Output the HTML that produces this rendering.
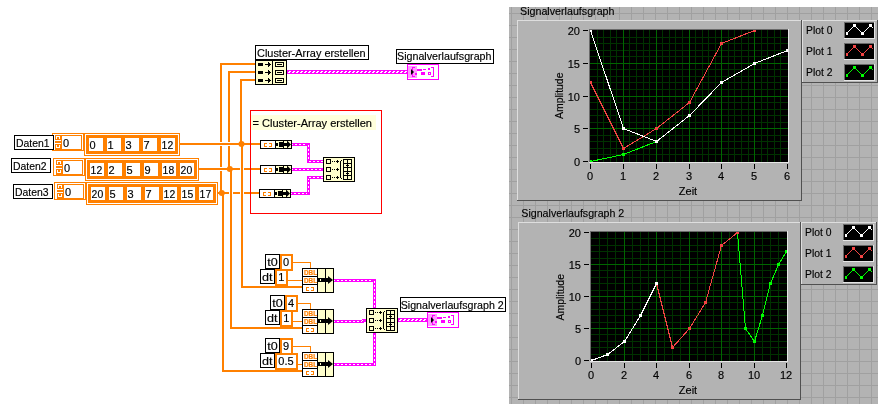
<!DOCTYPE html>
<html lang="de"><head><meta charset="utf-8"><title>Signalverlaufsgraph</title>
<style>
html,body{margin:0;padding:0;background:#fff;}
body{width:885px;height:411px;overflow:hidden;}
svg{display:block;font-family:"Liberation Sans",sans-serif;font-size:11px;}
text{stroke:#000;stroke-width:0.15px;}
text.o{stroke:#FF8000;stroke-width:0.2px;}
</style></head><body>
<svg width="885" height="411" viewBox="0 0 885 411" shape-rendering="crispEdges">
<rect width="885" height="411" fill="#fff"/>
<rect x="509" y="7" width="369" height="397" fill="#B3B3B3"/>
<path d="M511.5 7V404 M523.5 7V404 M535.5 7V404 M547.5 7V404 M559.5 7V404 M571.5 7V404 M583.5 7V404 M595.5 7V404 M607.5 7V404 M619.5 7V404 M631.5 7V404 M643.5 7V404 M655.5 7V404 M667.5 7V404 M679.5 7V404 M691.5 7V404 M703.5 7V404 M715.5 7V404 M727.5 7V404 M739.5 7V404 M751.5 7V404 M763.5 7V404 M775.5 7V404 M787.5 7V404 M799.5 7V404 M811.5 7V404 M823.5 7V404 M835.5 7V404 M847.5 7V404 M859.5 7V404 M871.5 7V404 M509 13.5H878 M509 25.5H878 M509 37.5H878 M509 49.5H878 M509 61.5H878 M509 73.5H878 M509 85.5H878 M509 97.5H878 M509 109.5H878 M509 121.5H878 M509 133.5H878 M509 145.5H878 M509 157.5H878 M509 169.5H878 M509 181.5H878 M509 193.5H878 M509 205.5H878 M509 217.5H878 M509 229.5H878 M509 241.5H878 M509 253.5H878 M509 265.5H878 M509 277.5H878 M509 289.5H878 M509 301.5H878 M509 313.5H878 M509 325.5H878 M509 337.5H878 M509 349.5H878 M509 361.5H878 M509 373.5H878 M509 385.5H878 M509 397.5H878" stroke="#A0A0A0" stroke-width="1" fill="none"/>
<rect x="517" y="20" width="285" height="181" fill="#B3B3B3"/>
<rect x="517" y="20" width="285" height="1" fill="#DEDEDE"/>
<rect x="517" y="20" width="1" height="181" fill="#DEDEDE"/>
<rect x="517" y="200" width="285" height="1" fill="#505050"/>
<rect x="801" y="20" width="1" height="181" fill="#505050"/>
<text x="520" y="15" textLength="94.5" lengthAdjust="spacingAndGlyphs">Signalverlaufsgraph</text>
<rect x="589" y="29" width="200" height="134" fill="#000000"/>
<rect x="589" y="29" width="200" height="1" fill="#6A6A6A"/>
<rect x="589" y="29" width="1" height="134" fill="#6A6A6A"/>
<rect x="589" y="162" width="200" height="1" fill="#E6E6E6"/>
<rect x="788" y="29" width="1" height="134" fill="#E6E6E6"/>
<path d="M597.5 30V162 M603.5 30V162 M610.5 30V162 M616.5 30V162 M629.5 30V162 M636.5 30V162 M643.5 30V162 M649.5 30V162 M662.5 30V162 M669.5 30V162 M675.5 30V162 M682.5 30V162 M695.5 30V162 M702.5 30V162 M708.5 30V162 M715.5 30V162 M728.5 30V162 M734.5 30V162 M741.5 30V162 M748.5 30V162 M761.5 30V162 M767.5 30V162 M774.5 30V162 M780.5 30V162 M590 154.5H788 M590 148.5H788 M590 141.5H788 M590 135.5H788 M590 122.5H788 M590 115.5H788 M590 109.5H788 M590 102.5H788 M590 89.5H788 M590 82.5H788 M590 76.5H788 M590 69.5H788 M590 56.5H788 M590 50.5H788 M590 43.5H788 M590 37.5H788" stroke="#003200" fill="none"/>
<path d="M623.5 30V162 M656.5 30V162 M689.5 30V162 M721.5 30V162 M754.5 30V162 M590 128.5H788 M590 96.5H788 M590 63.5H788" stroke="#006600" fill="none"/>
<rect x="583" y="161" width="5" height="1" fill="#000000"/>
<text x="580" y="165.5" text-anchor="end">0</text>
<rect x="583" y="128" width="5" height="1" fill="#000000"/>
<text x="580" y="132.5" text-anchor="end">5</text>
<rect x="583" y="96" width="5" height="1" fill="#000000"/>
<text x="580" y="100.5" text-anchor="end">10</text>
<rect x="583" y="63" width="5" height="1" fill="#000000"/>
<text x="580" y="67.5" text-anchor="end">15</text>
<rect x="583" y="30" width="5" height="1" fill="#000000"/>
<text x="580" y="34.5" text-anchor="end">20</text>
<rect x="590" y="164" width="1" height="5" fill="#000000"/>
<text x="590" y="180" text-anchor="middle">0</text>
<rect x="623" y="164" width="1" height="5" fill="#000000"/>
<text x="623" y="180" text-anchor="middle">1</text>
<rect x="656" y="164" width="1" height="5" fill="#000000"/>
<text x="656" y="180" text-anchor="middle">2</text>
<rect x="689" y="164" width="1" height="5" fill="#000000"/>
<text x="689" y="180" text-anchor="middle">3</text>
<rect x="721" y="164" width="1" height="5" fill="#000000"/>
<text x="721" y="180" text-anchor="middle">4</text>
<rect x="754" y="164" width="1" height="5" fill="#000000"/>
<text x="754" y="180" text-anchor="middle">5</text>
<rect x="787" y="164" width="1" height="5" fill="#000000"/>
<text x="787" y="180" text-anchor="middle">6</text>
<text x="688.0" y="195" text-anchor="middle">Zeit</text>
<text transform="translate(562.5 119.0) rotate(-90)" textLength="46.5" lengthAdjust="spacingAndGlyphs">Amplitude</text>
<path d="M590.5 161.5 L623.5 154.5 L656.5 141.5 L689.5 115.5 L721.5 82.5" stroke="#00FF00" fill="none" stroke-width="1"/>
<rect x="590" y="160.0" width="2.0" height="2.0" fill="#00FF00"/>
<rect x="622.0" y="153.0" width="3.0" height="3.0" fill="#00FF00"/>
<rect x="655.0" y="140.0" width="3.0" height="3.0" fill="#00FF00"/>
<rect x="688.0" y="114.0" width="3.0" height="3.0" fill="#00FF00"/>
<rect x="720.0" y="81.0" width="3.0" height="3.0" fill="#00FF00"/>
<path d="M590.5 82.5 L623.5 148.5 L656.5 128.5 L689.5 102.5 L721.5 43.5 L754.5 30.5" stroke="#F44444" fill="none" stroke-width="1"/>
<rect x="590" y="81.0" width="2.0" height="3.0" fill="#F44444"/>
<rect x="622.0" y="147.0" width="3.0" height="3.0" fill="#F44444"/>
<rect x="655.0" y="127.0" width="3.0" height="3.0" fill="#F44444"/>
<rect x="688.0" y="101.0" width="3.0" height="3.0" fill="#F44444"/>
<rect x="720.0" y="42.0" width="3.0" height="3.0" fill="#F44444"/>
<rect x="753.0" y="30" width="3.0" height="2.0" fill="#F44444"/>
<path d="M590.5 30.5 L623.5 128.5 L656.5 141.5 L689.5 115.5 L721.5 82.5 L754.5 63.5 L787.5 50.5" stroke="#FFFFFF" fill="none" stroke-width="1"/>
<rect x="590" y="30" width="2.0" height="2.0" fill="#FFFFFF"/>
<rect x="622.0" y="127.0" width="3.0" height="3.0" fill="#FFFFFF"/>
<rect x="655.0" y="140.0" width="3.0" height="3.0" fill="#FFFFFF"/>
<rect x="688.0" y="114.0" width="3.0" height="3.0" fill="#FFFFFF"/>
<rect x="720.0" y="81.0" width="3.0" height="3.0" fill="#FFFFFF"/>
<rect x="753.0" y="62.0" width="3.0" height="3.0" fill="#FFFFFF"/>
<rect x="786.0" y="49.0" width="2.0" height="3.0" fill="#FFFFFF"/>
<rect x="802" y="20" width="76" height="63" fill="#B3B3B3"/>
<rect x="802" y="20" width="76" height="1" fill="#DEDEDE"/>
<rect x="802" y="20" width="1" height="63" fill="#DEDEDE"/>
<rect x="802" y="82" width="76" height="1" fill="#505050"/>
<rect x="877" y="20" width="1" height="63" fill="#505050"/>
<text x="806" y="34" textLength="26.5" lengthAdjust="spacingAndGlyphs">Plot 0</text>
<rect x="844" y="22" width="31" height="17" fill="#000000"/>
<rect x="844" y="22" width="31" height="1" fill="#6A6A6A"/>
<rect x="844" y="22" width="1" height="17" fill="#6A6A6A"/>
<rect x="844" y="38" width="31" height="1" fill="#E6E6E6"/>
<rect x="874" y="22" width="1" height="17" fill="#E6E6E6"/>
<path d="M846.5 33.5 L854.5 25.5 L862.5 33.5 L870.5 25.5 L873.5 28.5" stroke="#FFFFFF" fill="none"/>
<rect x="846.0" y="32.0" width="2.0" height="3.0" fill="#FFFFFF"/>
<rect x="853.0" y="24.0" width="3.0" height="3.0" fill="#FFFFFF"/>
<rect x="861.0" y="32.0" width="3.0" height="3.0" fill="#FFFFFF"/>
<rect x="869.0" y="24.0" width="3.0" height="3.0" fill="#FFFFFF"/>
<text x="806" y="55" textLength="26.5" lengthAdjust="spacingAndGlyphs">Plot 1</text>
<rect x="844" y="43" width="31" height="17" fill="#000000"/>
<rect x="844" y="43" width="31" height="1" fill="#6A6A6A"/>
<rect x="844" y="43" width="1" height="17" fill="#6A6A6A"/>
<rect x="844" y="59" width="31" height="1" fill="#E6E6E6"/>
<rect x="874" y="43" width="1" height="17" fill="#E6E6E6"/>
<path d="M846.5 54.5 L854.5 46.5 L862.5 54.5 L870.5 46.5 L873.5 49.5" stroke="#F44444" fill="none"/>
<rect x="846.0" y="53.0" width="2.0" height="3.0" fill="#F44444"/>
<rect x="853.0" y="45.0" width="3.0" height="3.0" fill="#F44444"/>
<rect x="861.0" y="53.0" width="3.0" height="3.0" fill="#F44444"/>
<rect x="869.0" y="45.0" width="3.0" height="3.0" fill="#F44444"/>
<text x="806" y="76" textLength="26.5" lengthAdjust="spacingAndGlyphs">Plot 2</text>
<rect x="844" y="64" width="31" height="17" fill="#000000"/>
<rect x="844" y="64" width="31" height="1" fill="#6A6A6A"/>
<rect x="844" y="64" width="1" height="17" fill="#6A6A6A"/>
<rect x="844" y="80" width="31" height="1" fill="#E6E6E6"/>
<rect x="874" y="64" width="1" height="17" fill="#E6E6E6"/>
<path d="M846.5 75.5 L854.5 67.5 L862.5 75.5 L870.5 67.5 L873.5 70.5" stroke="#00FF00" fill="none"/>
<rect x="846.0" y="74.0" width="2.0" height="3.0" fill="#00FF00"/>
<rect x="853.0" y="66.0" width="3.0" height="3.0" fill="#00FF00"/>
<rect x="861.0" y="74.0" width="3.0" height="3.0" fill="#00FF00"/>
<rect x="869.0" y="66.0" width="3.0" height="3.0" fill="#00FF00"/>
<rect x="518" y="222" width="283" height="178" fill="#B3B3B3"/>
<rect x="518" y="222" width="283" height="1" fill="#DEDEDE"/>
<rect x="518" y="222" width="1" height="178" fill="#DEDEDE"/>
<rect x="518" y="399" width="283" height="1" fill="#505050"/>
<rect x="800" y="222" width="1" height="178" fill="#505050"/>
<text x="521.3" y="217" textLength="103" lengthAdjust="spacingAndGlyphs">Signalverlaufsgraph 2</text>
<rect x="590" y="231" width="198" height="131" fill="#000000"/>
<rect x="590" y="231" width="198" height="1" fill="#6A6A6A"/>
<rect x="590" y="231" width="1" height="131" fill="#6A6A6A"/>
<rect x="590" y="361" width="198" height="1" fill="#E6E6E6"/>
<rect x="787" y="231" width="1" height="131" fill="#E6E6E6"/>
<path d="M599.5 232V361 M607.5 232V361 M615.5 232V361 M632.5 232V361 M640.5 232V361 M648.5 232V361 M664.5 232V361 M672.5 232V361 M680.5 232V361 M697.5 232V361 M705.5 232V361 M713.5 232V361 M729.5 232V361 M737.5 232V361 M745.5 232V361 M762.5 232V361 M770.5 232V361 M778.5 232V361 M591 354.5H787 M591 347.5H787 M591 341.5H787 M591 334.5H787 M591 322.5H787 M591 315.5H787 M591 309.5H787 M591 302.5H787 M591 290.5H787 M591 283.5H787 M591 277.5H787 M591 270.5H787 M591 258.5H787 M591 251.5H787 M591 245.5H787 M591 238.5H787" stroke="#003200" fill="none"/>
<path d="M624.5 232V361 M656.5 232V361 M689.5 232V361 M721.5 232V361 M754.5 232V361 M591 328.5H787 M591 296.5H787 M591 264.5H787" stroke="#006600" fill="none"/>
<rect x="584" y="360" width="5" height="1" fill="#000000"/>
<text x="581" y="364.5" text-anchor="end">0</text>
<rect x="584" y="328" width="5" height="1" fill="#000000"/>
<text x="581" y="332.5" text-anchor="end">5</text>
<rect x="584" y="296" width="5" height="1" fill="#000000"/>
<text x="581" y="300.5" text-anchor="end">10</text>
<rect x="584" y="264" width="5" height="1" fill="#000000"/>
<text x="581" y="268.5" text-anchor="end">15</text>
<rect x="584" y="232" width="5" height="1" fill="#000000"/>
<text x="581" y="236.5" text-anchor="end">20</text>
<rect x="591" y="363" width="1" height="5" fill="#000000"/>
<text x="591" y="379" text-anchor="middle">0</text>
<rect x="624" y="363" width="1" height="5" fill="#000000"/>
<text x="624" y="379" text-anchor="middle">2</text>
<rect x="656" y="363" width="1" height="5" fill="#000000"/>
<text x="656" y="379" text-anchor="middle">4</text>
<rect x="689" y="363" width="1" height="5" fill="#000000"/>
<text x="689" y="379" text-anchor="middle">6</text>
<rect x="721" y="363" width="1" height="5" fill="#000000"/>
<text x="721" y="379" text-anchor="middle">8</text>
<rect x="754" y="363" width="1" height="5" fill="#000000"/>
<text x="754" y="379" text-anchor="middle">10</text>
<rect x="786" y="363" width="1" height="5" fill="#000000"/>
<text x="786" y="379" text-anchor="middle">12</text>
<text x="688.0" y="394" text-anchor="middle">Zeit</text>
<text transform="translate(563.5 320.5) rotate(-90)" textLength="46.5" lengthAdjust="spacingAndGlyphs">Amplitude</text>
<path d="M737.5 232.5 L745.5 328.5 L754.5 341.5 L762.5 315.5 L770.5 283.5 L778.5 264.5 L786.5 251.5" stroke="#00FF00" fill="none" stroke-width="1"/>
<rect x="736.0" y="232" width="3.0" height="2.0" fill="#00FF00"/>
<rect x="744.0" y="327.0" width="3.0" height="3.0" fill="#00FF00"/>
<rect x="753.0" y="340.0" width="3.0" height="3.0" fill="#00FF00"/>
<rect x="761.0" y="314.0" width="3.0" height="3.0" fill="#00FF00"/>
<rect x="769.0" y="282.0" width="3.0" height="3.0" fill="#00FF00"/>
<rect x="777.0" y="263.0" width="3.0" height="3.0" fill="#00FF00"/>
<rect x="785.0" y="250.0" width="2.0" height="3.0" fill="#00FF00"/>
<path d="M656.5 283.5 L672.5 347.5 L689.5 328.5 L705.5 302.5 L721.5 245.5 L737.5 232.5" stroke="#F44444" fill="none" stroke-width="1"/>
<rect x="655.0" y="282.0" width="3.0" height="3.0" fill="#F44444"/>
<rect x="671.0" y="346.0" width="3.0" height="3.0" fill="#F44444"/>
<rect x="688.0" y="327.0" width="3.0" height="3.0" fill="#F44444"/>
<rect x="704.0" y="301.0" width="3.0" height="3.0" fill="#F44444"/>
<rect x="720.0" y="244.0" width="3.0" height="3.0" fill="#F44444"/>
<rect x="736.0" y="232" width="3.0" height="2.0" fill="#F44444"/>
<path d="M591.5 360.5 L607.5 354.5 L624.5 341.5 L640.5 315.5 L656.5 283.5" stroke="#FFFFFF" fill="none" stroke-width="1"/>
<rect x="591" y="359.0" width="2.0" height="2.0" fill="#FFFFFF"/>
<rect x="606.0" y="353.0" width="3.0" height="3.0" fill="#FFFFFF"/>
<rect x="623.0" y="340.0" width="3.0" height="3.0" fill="#FFFFFF"/>
<rect x="639.0" y="314.0" width="3.0" height="3.0" fill="#FFFFFF"/>
<rect x="655.0" y="282.0" width="3.0" height="3.0" fill="#FFFFFF"/>
<rect x="801" y="222" width="76" height="63" fill="#B3B3B3"/>
<rect x="801" y="222" width="76" height="1" fill="#DEDEDE"/>
<rect x="801" y="222" width="1" height="63" fill="#DEDEDE"/>
<rect x="801" y="284" width="76" height="1" fill="#505050"/>
<rect x="876" y="222" width="1" height="63" fill="#505050"/>
<text x="805" y="236" textLength="26.5" lengthAdjust="spacingAndGlyphs">Plot 0</text>
<rect x="843" y="224" width="31" height="17" fill="#000000"/>
<rect x="843" y="224" width="31" height="1" fill="#6A6A6A"/>
<rect x="843" y="224" width="1" height="17" fill="#6A6A6A"/>
<rect x="843" y="240" width="31" height="1" fill="#E6E6E6"/>
<rect x="873" y="224" width="1" height="17" fill="#E6E6E6"/>
<path d="M845.5 235.5 L853.5 227.5 L861.5 235.5 L869.5 227.5 L872.5 230.5" stroke="#FFFFFF" fill="none"/>
<rect x="845.0" y="234.0" width="2.0" height="3.0" fill="#FFFFFF"/>
<rect x="852.0" y="226.0" width="3.0" height="3.0" fill="#FFFFFF"/>
<rect x="860.0" y="234.0" width="3.0" height="3.0" fill="#FFFFFF"/>
<rect x="868.0" y="226.0" width="3.0" height="3.0" fill="#FFFFFF"/>
<text x="805" y="257" textLength="26.5" lengthAdjust="spacingAndGlyphs">Plot 1</text>
<rect x="843" y="245" width="31" height="17" fill="#000000"/>
<rect x="843" y="245" width="31" height="1" fill="#6A6A6A"/>
<rect x="843" y="245" width="1" height="17" fill="#6A6A6A"/>
<rect x="843" y="261" width="31" height="1" fill="#E6E6E6"/>
<rect x="873" y="245" width="1" height="17" fill="#E6E6E6"/>
<path d="M845.5 256.5 L853.5 248.5 L861.5 256.5 L869.5 248.5 L872.5 251.5" stroke="#F44444" fill="none"/>
<rect x="845.0" y="255.0" width="2.0" height="3.0" fill="#F44444"/>
<rect x="852.0" y="247.0" width="3.0" height="3.0" fill="#F44444"/>
<rect x="860.0" y="255.0" width="3.0" height="3.0" fill="#F44444"/>
<rect x="868.0" y="247.0" width="3.0" height="3.0" fill="#F44444"/>
<text x="805" y="278" textLength="26.5" lengthAdjust="spacingAndGlyphs">Plot 2</text>
<rect x="843" y="266" width="31" height="17" fill="#000000"/>
<rect x="843" y="266" width="31" height="1" fill="#6A6A6A"/>
<rect x="843" y="266" width="1" height="17" fill="#6A6A6A"/>
<rect x="843" y="282" width="31" height="1" fill="#E6E6E6"/>
<rect x="873" y="266" width="1" height="17" fill="#E6E6E6"/>
<path d="M845.5 277.5 L853.5 269.5 L861.5 277.5 L869.5 269.5 L872.5 272.5" stroke="#00FF00" fill="none"/>
<rect x="845.0" y="276.0" width="2.0" height="3.0" fill="#00FF00"/>
<rect x="852.0" y="268.0" width="3.0" height="3.0" fill="#00FF00"/>
<rect x="860.0" y="276.0" width="3.0" height="3.0" fill="#00FF00"/>
<rect x="868.0" y="268.0" width="3.0" height="3.0" fill="#00FF00"/>
<rect x="220" y="63" width="2" height="79" fill="#FF8000"/>
<rect x="220" y="146" width="2" height="21" fill="#FF8000"/>
<rect x="220" y="171" width="2" height="22" fill="#FF8000"/>
<rect x="220" y="63" width="35" height="2" fill="#FF8000"/>
<rect x="222" y="193" width="2" height="179" fill="#FF8000"/>
<rect x="222" y="370" width="80" height="2" fill="#FF8000"/>
<rect x="228" y="71" width="2" height="71" fill="#FF8000"/>
<rect x="228" y="146" width="2" height="23" fill="#FF8000"/>
<rect x="228" y="71" width="27" height="2" fill="#FF8000"/>
<rect x="230" y="169" width="2" height="160" fill="#FF8000"/>
<rect x="230" y="327" width="72" height="2" fill="#FF8000"/>
<rect x="240" y="79" width="2" height="65" fill="#FF8000"/>
<rect x="240" y="79" width="15" height="2" fill="#FF8000"/>
<rect x="241" y="144" width="2" height="144" fill="#FF8000"/>
<rect x="241" y="286" width="61" height="2" fill="#FF8000"/>
<rect x="180" y="143" width="80" height="2" fill="#FF8000"/>
<rect x="199" y="168" width="41" height="2" fill="#FF8000"/>
<rect x="244" y="168" width="16" height="2" fill="#FF8000"/>
<rect x="218" y="192" width="11" height="2" fill="#FF8000"/>
<rect x="233" y="192" width="7" height="2" fill="#FF8000"/>
<rect x="244" y="192" width="15" height="2" fill="#FF8000"/>
<circle cx="241.5" cy="144" r="3" fill="#FF8000" shape-rendering="auto"/>
<circle cx="229.8" cy="169" r="3" fill="#FF8000" shape-rendering="auto"/>
<circle cx="221.8" cy="193" r="3" fill="#FF8000" shape-rendering="auto"/>
<rect x="250" y="110" width="132" height="104" fill="#FF0000"/>
<rect x="251" y="111" width="130" height="102" fill="#FFFFFF"/>
<rect x="251" y="115" width="125" height="15" fill="#FFFFDC"/>
<text x="252.5" y="127" textLength="119.5" lengthAdjust="spacingAndGlyphs">= Cluster-Array erstellen</text>
<rect x="250" y="143" width="10" height="2" fill="#FF8000"/>
<rect x="251" y="168" width="9" height="2" fill="#FF8000"/>
<rect x="251" y="192" width="8" height="2" fill="#FF8000"/>
<rect x="250" y="110" width="1" height="104" fill="#FF0000"/>
<rect x="292" y="143" width="18" height="3" fill="#FF00FF"/>
<path d="M292 144.5H309" stroke="#FFFFFF" stroke-dasharray="2 2" stroke-dashoffset="1" fill="none"/>
<rect x="307" y="143" width="3" height="20" fill="#FF00FF"/>
<path d="M308.5 145V162" stroke="#FFFFFF" stroke-dasharray="2 2" fill="none"/>
<rect x="307" y="160" width="16" height="3" fill="#FF00FF"/>
<path d="M309 161.5H323" stroke="#FFFFFF" stroke-dasharray="2 2" fill="none"/>
<rect x="292" y="168" width="31" height="3" fill="#FF00FF"/>
<path d="M292 169.5H322" stroke="#FFFFFF" stroke-dasharray="2 2" stroke-dashoffset="1" fill="none"/>
<rect x="291" y="192" width="19" height="3" fill="#FF00FF"/>
<path d="M291 193.5H309" stroke="#FFFFFF" stroke-dasharray="2 2" stroke-dashoffset="1" fill="none"/>
<rect x="307" y="176" width="3" height="19" fill="#FF00FF"/>
<path d="M308.5 178V194" stroke="#FFFFFF" stroke-dasharray="2 2" fill="none"/>
<rect x="307" y="176" width="16" height="3" fill="#FF00FF"/>
<path d="M309 177.5H323" stroke="#FFFFFF" stroke-dasharray="2 2" fill="none"/>
<rect x="260" y="140" width="32" height="9" fill="#000000"/>
<rect x="261" y="141" width="30" height="7" fill="#FFFFFF"/>
<rect x="275" y="140" width="17" height="9" fill="#000000"/>
<rect x="276" y="141" width="7" height="1" fill="#FFFFCC"/>
<rect x="276" y="147" width="7" height="1" fill="#FFFFCC"/>
<rect x="276" y="142" width="2" height="1" fill="#FFFFCC"/>
<rect x="276" y="146" width="2" height="1" fill="#FFFFCC"/>
<rect x="278" y="142" width="1" height="5" fill="#FFFFCC"/>
<rect x="284" y="141" width="3" height="2" fill="#FFFFCC"/>
<rect x="284" y="146" width="3" height="2" fill="#FFFFCC"/>
<path d="M287.5 141h3.5v3.5zM287.5 148h3.5v-3.5z" fill="#FFFFCC" shape-rendering="auto"/>
<path d="M267 143.5h-2.5v3h2.5M269 143.5h2.5v3h-2.5" stroke="#FF8000" fill="none"/>
<rect x="260" y="165" width="32" height="9" fill="#000000"/>
<rect x="261" y="166" width="30" height="7" fill="#FFFFFF"/>
<rect x="275" y="165" width="17" height="9" fill="#000000"/>
<rect x="276" y="166" width="7" height="1" fill="#FFFFCC"/>
<rect x="276" y="172" width="7" height="1" fill="#FFFFCC"/>
<rect x="276" y="167" width="2" height="1" fill="#FFFFCC"/>
<rect x="276" y="171" width="2" height="1" fill="#FFFFCC"/>
<rect x="278" y="167" width="1" height="5" fill="#FFFFCC"/>
<rect x="284" y="166" width="3" height="2" fill="#FFFFCC"/>
<rect x="284" y="171" width="3" height="2" fill="#FFFFCC"/>
<path d="M287.5 166h3.5v3.5zM287.5 173h3.5v-3.5z" fill="#FFFFCC" shape-rendering="auto"/>
<path d="M267 168.5h-2.5v3h2.5M269 168.5h2.5v3h-2.5" stroke="#FF8000" fill="none"/>
<rect x="259" y="189" width="32" height="9" fill="#000000"/>
<rect x="260" y="190" width="30" height="7" fill="#FFFFFF"/>
<rect x="274" y="189" width="17" height="9" fill="#000000"/>
<rect x="275" y="190" width="7" height="1" fill="#FFFFCC"/>
<rect x="275" y="196" width="7" height="1" fill="#FFFFCC"/>
<rect x="275" y="191" width="2" height="1" fill="#FFFFCC"/>
<rect x="275" y="195" width="2" height="1" fill="#FFFFCC"/>
<rect x="277" y="191" width="1" height="5" fill="#FFFFCC"/>
<rect x="283" y="190" width="3" height="2" fill="#FFFFCC"/>
<rect x="283" y="195" width="3" height="2" fill="#FFFFCC"/>
<path d="M286.5 190h3.5v3.5zM286.5 197h3.5v-3.5z" fill="#FFFFCC" shape-rendering="auto"/>
<path d="M266 192.5h-2.5v3h2.5M268 192.5h2.5v3h-2.5" stroke="#FF8000" fill="none"/>
<rect x="323" y="157" width="32" height="25" fill="#000000"/>
<rect x="324" y="158" width="30" height="23" fill="#FFFFCC"/>
<rect x="326.5" y="159.5" width="4" height="4" fill="none" stroke="#000000"/>
<rect x="332" y="161" width="1" height="1" fill="#000000"/>
<rect x="334" y="161" width="1" height="1" fill="#000000"/>
<rect x="336" y="161" width="3" height="1" fill="#000000"/>
<rect x="337" y="160" width="1" height="3" fill="#000000"/>
<rect x="326.5" y="167.5" width="4" height="4" fill="none" stroke="#000000"/>
<rect x="332" y="169" width="1" height="1" fill="#000000"/>
<rect x="334" y="169" width="1" height="1" fill="#000000"/>
<rect x="336" y="169" width="3" height="1" fill="#000000"/>
<rect x="337" y="168" width="1" height="3" fill="#000000"/>
<rect x="326.5" y="175.5" width="4" height="4" fill="none" stroke="#000000"/>
<rect x="332" y="177" width="1" height="1" fill="#000000"/>
<rect x="334" y="177" width="1" height="1" fill="#000000"/>
<rect x="336" y="177" width="3" height="1" fill="#000000"/>
<rect x="337" y="176" width="1" height="3" fill="#000000"/>
<rect x="340" y="161" width="1" height="17" fill="#000000"/>
<rect x="341" y="160" width="1" height="1" fill="#000000"/>
<rect x="341" y="178" width="1" height="1" fill="#000000"/>
<rect x="343.5" y="159.5" width="8" height="20" fill="none" stroke="#000000"/>
<rect x="347" y="159" width="1" height="21" fill="#000000"/>
<rect x="343" y="163" width="9" height="1" fill="#000000"/>
<rect x="343" y="167" width="9" height="1" fill="#000000"/>
<rect x="343" y="171" width="9" height="1" fill="#000000"/>
<rect x="343" y="175" width="9" height="1" fill="#000000"/>
<rect x="346" y="165" width="3" height="1" fill="#000000"/>
<rect x="346" y="173" width="3" height="1" fill="#000000"/>
<rect x="287" y="70" width="120" height="4" fill="#FF00FF"/>
<path d="M289 71.5H407M288 72.5H407" stroke="#FFFFFF" stroke-dasharray="2 2" fill="none"/>
<rect x="255" y="60" width="32" height="25" fill="#000000"/>
<rect x="256" y="61" width="30" height="23" fill="#FFFFCC"/>
<rect x="272" y="60" width="1" height="25" fill="#000000"/>
<rect x="258" y="63" width="5" height="3" fill="#000000"/>
<rect x="265" y="64" width="5" height="1" fill="#000000"/>
<path d="M268 62v5l2.5 -2.5z" fill="#000000"/>
<rect x="275.5" y="62.5" width="8" height="4" fill="none" stroke="#000000"/>
<rect x="277" y="64" width="5" height="1" fill="#000000"/>
<rect x="258" y="71" width="5" height="3" fill="#000000"/>
<rect x="265" y="72" width="5" height="1" fill="#000000"/>
<path d="M268 70v5l2.5 -2.5z" fill="#000000"/>
<rect x="275.5" y="70.5" width="8" height="4" fill="none" stroke="#000000"/>
<rect x="277" y="72" width="5" height="1" fill="#000000"/>
<rect x="258" y="79" width="5" height="3" fill="#000000"/>
<rect x="265" y="80" width="5" height="1" fill="#000000"/>
<path d="M268 78v5l2.5 -2.5z" fill="#000000"/>
<rect x="275.5" y="78.5" width="8" height="4" fill="none" stroke="#000000"/>
<rect x="277" y="80" width="5" height="1" fill="#000000"/>
<rect x="255" y="45" width="114" height="15" fill="#000000"/>
<rect x="256" y="46" width="112" height="13" fill="#FFFFFF"/>
<text x="257" y="57" textLength="108.7" lengthAdjust="spacingAndGlyphs">Cluster-Array erstellen</text>
<rect x="407" y="64" width="32" height="16" fill="#FF00FF"/>
<rect x="408" y="65" width="30" height="14" fill="#FFFFFF"/>
<rect x="408" y="66" width="9" height="12" fill="#FF99FF"/>
<path d="M415 67.5h-2.5v9h2.5M431 67.5h2.5v9h-2.5" stroke="#FF00FF" fill="none"/>
<path d="M411 69l3 3l-3 3z" fill="#000000" shape-rendering="auto"/>
<rect x="417.5" y="69.5" width="4" height="1" fill="none" stroke="#FF00FF"/>
<rect x="415" y="73" width="2" height="2" fill="#FF00FF"/>
<rect x="423" y="69" width="3" height="1" fill="#FF00FF"/>
<rect x="421" y="72" width="4" height="3" fill="#FF00FF"/>
<rect x="428" y="68" width="2" height="2" fill="#FF00FF"/>
<rect x="428.5" y="72.5" width="2" height="2" fill="none" stroke="#FF00FF"/>
<rect x="396" y="49" width="98" height="15" fill="#000000"/>
<rect x="397" y="50" width="96" height="13" fill="#FFFFFF"/>
<text x="397" y="60" textLength="94.5" lengthAdjust="spacingAndGlyphs">Signalverlaufsgraph</text>
<rect x="52" y="133" width="128" height="1" fill="#FF8000"/>
<rect x="52" y="133" width="1" height="18" fill="#FF8000"/>
<rect x="52" y="150" width="32" height="1" fill="#FF8000"/>
<rect x="83" y="133" width="1" height="18" fill="#FF8000"/>
<rect x="84" y="133" width="1" height="23" fill="#FF8000"/>
<rect x="84" y="155" width="96" height="1" fill="#FF8000"/>
<rect x="179" y="133" width="1" height="23" fill="#FF8000"/>
<rect x="55" y="135" width="6" height="15" fill="#FF8000"/>
<path d="M56.5 139V136.5H59.5V139M56.5 145V147.5H59.5V145" stroke="#FFFFFF" fill="none"/>
<rect x="55" y="140" width="6" height="1" fill="#FFFFFF"/>
<rect x="55" y="143" width="6" height="1" fill="#FFFFFF"/>
<rect x="61" y="135" width="21" height="15" fill="#FF8000"/>
<rect x="62" y="136" width="19" height="13" fill="#FFFFFF"/>
<text x="63" y="147">0</text>
<rect x="86" y="135" width="92" height="19" fill="#FF8000"/>
<rect x="89" y="138" width="14" height="13" fill="#FFFFFF"/>
<text x="89.6" y="149">0</text>
<rect x="107" y="138" width="14" height="13" fill="#FFFFFF"/>
<text x="107.6" y="149">1</text>
<rect x="125" y="138" width="14" height="13" fill="#FFFFFF"/>
<text x="125.6" y="149">3</text>
<rect x="143" y="138" width="14" height="13" fill="#FFFFFF"/>
<text x="143.6" y="149">7</text>
<rect x="161" y="138" width="14" height="13" fill="#FFFFFF"/>
<text x="161.6" y="149" textLength="11.6" lengthAdjust="spacingAndGlyphs">12</text>
<rect x="53" y="158" width="146" height="1" fill="#FF8000"/>
<rect x="53" y="158" width="1" height="18" fill="#FF8000"/>
<rect x="53" y="175" width="32" height="1" fill="#FF8000"/>
<rect x="84" y="158" width="1" height="18" fill="#FF8000"/>
<rect x="85" y="158" width="1" height="23" fill="#FF8000"/>
<rect x="85" y="180" width="114" height="1" fill="#FF8000"/>
<rect x="198" y="158" width="1" height="23" fill="#FF8000"/>
<rect x="56" y="160" width="6" height="15" fill="#FF8000"/>
<path d="M57.5 164V161.5H60.5V164M57.5 170V172.5H60.5V170" stroke="#FFFFFF" fill="none"/>
<rect x="56" y="165" width="6" height="1" fill="#FFFFFF"/>
<rect x="56" y="168" width="6" height="1" fill="#FFFFFF"/>
<rect x="62" y="160" width="21" height="15" fill="#FF8000"/>
<rect x="63" y="161" width="19" height="13" fill="#FFFFFF"/>
<text x="64" y="172">0</text>
<rect x="87" y="160" width="110" height="19" fill="#FF8000"/>
<rect x="90" y="163" width="14" height="13" fill="#FFFFFF"/>
<text x="90.6" y="174" textLength="11.6" lengthAdjust="spacingAndGlyphs">12</text>
<rect x="108" y="163" width="14" height="13" fill="#FFFFFF"/>
<text x="108.6" y="174">2</text>
<rect x="126" y="163" width="14" height="13" fill="#FFFFFF"/>
<text x="126.6" y="174">5</text>
<rect x="144" y="163" width="14" height="13" fill="#FFFFFF"/>
<text x="144.6" y="174">9</text>
<rect x="162" y="163" width="14" height="13" fill="#FFFFFF"/>
<text x="162.6" y="174" textLength="11.6" lengthAdjust="spacingAndGlyphs">18</text>
<rect x="180" y="163" width="14" height="13" fill="#FFFFFF"/>
<text x="180.6" y="174" textLength="11.6" lengthAdjust="spacingAndGlyphs">20</text>
<rect x="54" y="182" width="164" height="1" fill="#FF8000"/>
<rect x="54" y="182" width="1" height="18" fill="#FF8000"/>
<rect x="54" y="199" width="32" height="1" fill="#FF8000"/>
<rect x="85" y="182" width="1" height="18" fill="#FF8000"/>
<rect x="86" y="182" width="1" height="23" fill="#FF8000"/>
<rect x="86" y="204" width="132" height="1" fill="#FF8000"/>
<rect x="217" y="182" width="1" height="23" fill="#FF8000"/>
<rect x="57" y="184" width="6" height="15" fill="#FF8000"/>
<path d="M58.5 188V185.5H61.5V188M58.5 194V196.5H61.5V194" stroke="#FFFFFF" fill="none"/>
<rect x="57" y="189" width="6" height="1" fill="#FFFFFF"/>
<rect x="57" y="192" width="6" height="1" fill="#FFFFFF"/>
<rect x="63" y="184" width="21" height="15" fill="#FF8000"/>
<rect x="64" y="185" width="19" height="13" fill="#FFFFFF"/>
<text x="65" y="196">0</text>
<rect x="88" y="184" width="128" height="19" fill="#FF8000"/>
<rect x="91" y="187" width="14" height="13" fill="#FFFFFF"/>
<text x="91.6" y="198" textLength="11.6" lengthAdjust="spacingAndGlyphs">20</text>
<rect x="109" y="187" width="14" height="13" fill="#FFFFFF"/>
<text x="109.6" y="198">5</text>
<rect x="127" y="187" width="14" height="13" fill="#FFFFFF"/>
<text x="127.6" y="198">3</text>
<rect x="145" y="187" width="14" height="13" fill="#FFFFFF"/>
<text x="145.6" y="198">7</text>
<rect x="163" y="187" width="14" height="13" fill="#FFFFFF"/>
<text x="163.6" y="198" textLength="11.6" lengthAdjust="spacingAndGlyphs">12</text>
<rect x="181" y="187" width="14" height="13" fill="#FFFFFF"/>
<text x="181.6" y="198" textLength="11.6" lengthAdjust="spacingAndGlyphs">15</text>
<rect x="199" y="187" width="14" height="13" fill="#FFFFFF"/>
<text x="199.6" y="198" textLength="11.6" lengthAdjust="spacingAndGlyphs">17</text>
<rect x="14" y="135" width="40" height="15" fill="#000000"/>
<rect x="15" y="136" width="38" height="13" fill="#FFFFFF"/>
<text x="16" y="147" textLength="33.5" lengthAdjust="spacingAndGlyphs">Daten1</text>
<rect x="11" y="158" width="40" height="15" fill="#000000"/>
<rect x="12" y="159" width="38" height="13" fill="#FFFFFF"/>
<text x="13" y="170" textLength="33.5" lengthAdjust="spacingAndGlyphs">Daten2</text>
<rect x="13" y="184" width="40" height="15" fill="#000000"/>
<rect x="14" y="185" width="38" height="13" fill="#FFFFFF"/>
<text x="15" y="196" textLength="33.5" lengthAdjust="spacingAndGlyphs">Daten3</text>
<rect x="334" y="279" width="42" height="3" fill="#FF00FF"/>
<path d="M334 280.5H375" stroke="#FFFFFF" stroke-dasharray="2 2" stroke-dashoffset="1" fill="none"/>
<rect x="373" y="279" width="3" height="29" fill="#FF00FF"/>
<path d="M374.5 281V307" stroke="#FFFFFF" stroke-dasharray="2 2" fill="none"/>
<rect x="334" y="320" width="30" height="3" fill="#FF00FF"/>
<path d="M334 321.5H363" stroke="#FFFFFF" stroke-dasharray="2 2" stroke-dashoffset="1" fill="none"/>
<rect x="362" y="319" width="4" height="3" fill="#FF00FF"/>
<path d="M362 320.5H365" stroke="#FFFFFF" stroke-dasharray="2 2" stroke-dashoffset="1" fill="none"/>
<rect x="334" y="363" width="42" height="3" fill="#FF00FF"/>
<path d="M334 364.5H375" stroke="#FFFFFF" stroke-dasharray="2 2" stroke-dashoffset="1" fill="none"/>
<rect x="373" y="333" width="3" height="33" fill="#FF00FF"/>
<path d="M374.5 335V365" stroke="#FFFFFF" stroke-dasharray="2 2" fill="none"/>
<rect x="398" y="318" width="29" height="4" fill="#FF00FF"/>
<path d="M400 319.5H427M399 320.5H427" stroke="#FFFFFF" stroke-dasharray="2 2" fill="none"/>
<rect x="293" y="262" width="18" height="1" fill="#FF8000"/>
<rect x="310" y="262" width="1" height="6" fill="#FF8000"/>
<rect x="285" y="280" width="17" height="1" fill="#FF8000"/>
<rect x="275" y="269" width="13" height="17" fill="#FF8000"/>
<rect x="277" y="271" width="9" height="13" fill="#FFFFFF"/>
<text x="278.3" y="281">1</text>
<rect x="280" y="254" width="13" height="17" fill="#FF8000"/>
<rect x="282" y="256" width="9" height="13" fill="#FFFFFF"/>
<text x="283" y="266">0</text>
<rect x="265" y="254" width="15" height="15" fill="#000000"/>
<rect x="266" y="255" width="13" height="13" fill="#FFFFFF"/>
<text x="267.2" y="266" textLength="10.5" lengthAdjust="spacingAndGlyphs">t0</text>
<rect x="260" y="269" width="15" height="15" fill="#000000"/>
<rect x="261" y="270" width="13" height="13" fill="#FFFFFF"/>
<text x="262" y="281" textLength="10.5" lengthAdjust="spacingAndGlyphs">dt</text>
<rect x="302" y="268" width="32" height="25" fill="#000000"/>
<rect x="303" y="269" width="30" height="23" fill="#FFFFFF"/>
<rect x="317" y="268" width="17" height="25" fill="#000000"/>
<rect x="318" y="269" width="7" height="23" fill="#FFFFCC"/>
<rect x="326" y="269" width="7" height="23" fill="#FFFFCC"/>
<rect x="302" y="276" width="16" height="1" fill="#000000"/>
<rect x="302" y="284" width="16" height="1" fill="#000000"/>
<text x="304" y="275" font-size="7" fill="#FF8000" textLength="13" lengthAdjust="spacingAndGlyphs" class="o" font-weight="bold">DBL</text>
<text x="304" y="283" font-size="7" fill="#FF8000" textLength="13" lengthAdjust="spacingAndGlyphs" class="o" font-weight="bold">DBL</text>
<path d="M309 287.5h-2.5v3h2.5M311 287.5h2.5v3h-2.5" stroke="#FF8000" fill="none"/>
<rect x="318" y="278" width="12" height="4" fill="#000000"/>
<path d="M328 276l5 4l-5 4z" fill="#000000" shape-rendering="auto"/>
<rect x="320" y="279" width="1" height="2" fill="#FFFFCC"/>
<rect x="298" y="303" width="13" height="1" fill="#FF8000"/>
<rect x="310" y="303" width="1" height="6" fill="#FF8000"/>
<rect x="290" y="321" width="12" height="1" fill="#FF8000"/>
<rect x="280" y="310" width="13" height="17" fill="#FF8000"/>
<rect x="282" y="312" width="9" height="13" fill="#FFFFFF"/>
<text x="283.3" y="322">1</text>
<rect x="285" y="295" width="13" height="17" fill="#FF8000"/>
<rect x="287" y="297" width="9" height="13" fill="#FFFFFF"/>
<text x="288" y="307">4</text>
<rect x="270" y="295" width="15" height="15" fill="#000000"/>
<rect x="271" y="296" width="13" height="13" fill="#FFFFFF"/>
<text x="272.2" y="307" textLength="10.5" lengthAdjust="spacingAndGlyphs">t0</text>
<rect x="265" y="310" width="15" height="15" fill="#000000"/>
<rect x="266" y="311" width="13" height="13" fill="#FFFFFF"/>
<text x="267" y="322" textLength="10.5" lengthAdjust="spacingAndGlyphs">dt</text>
<rect x="302" y="309" width="32" height="25" fill="#000000"/>
<rect x="303" y="310" width="30" height="23" fill="#FFFFFF"/>
<rect x="317" y="309" width="17" height="25" fill="#000000"/>
<rect x="318" y="310" width="7" height="23" fill="#FFFFCC"/>
<rect x="326" y="310" width="7" height="23" fill="#FFFFCC"/>
<rect x="302" y="317" width="16" height="1" fill="#000000"/>
<rect x="302" y="325" width="16" height="1" fill="#000000"/>
<text x="304" y="316" font-size="7" fill="#FF8000" textLength="13" lengthAdjust="spacingAndGlyphs" class="o" font-weight="bold">DBL</text>
<text x="304" y="324" font-size="7" fill="#FF8000" textLength="13" lengthAdjust="spacingAndGlyphs" class="o" font-weight="bold">DBL</text>
<path d="M309 328.5h-2.5v3h2.5M311 328.5h2.5v3h-2.5" stroke="#FF8000" fill="none"/>
<rect x="318" y="319" width="12" height="4" fill="#000000"/>
<path d="M328 317l5 4l-5 4z" fill="#000000" shape-rendering="auto"/>
<rect x="320" y="320" width="1" height="2" fill="#FFFFCC"/>
<rect x="293" y="346" width="18" height="1" fill="#FF8000"/>
<rect x="310" y="346" width="1" height="6" fill="#FF8000"/>
<rect x="285" y="364" width="17" height="1" fill="#FF8000"/>
<rect x="275" y="353" width="23" height="17" fill="#FF8000"/>
<rect x="277" y="355" width="19" height="13" fill="#FFFFFF"/>
<text x="278.3" y="365">0.5</text>
<rect x="280" y="338" width="13" height="17" fill="#FF8000"/>
<rect x="282" y="340" width="9" height="13" fill="#FFFFFF"/>
<text x="283" y="350">9</text>
<rect x="265" y="338" width="15" height="15" fill="#000000"/>
<rect x="266" y="339" width="13" height="13" fill="#FFFFFF"/>
<text x="267.2" y="350" textLength="10.5" lengthAdjust="spacingAndGlyphs">t0</text>
<rect x="260" y="353" width="15" height="15" fill="#000000"/>
<rect x="261" y="354" width="13" height="13" fill="#FFFFFF"/>
<text x="262" y="365" textLength="10.5" lengthAdjust="spacingAndGlyphs">dt</text>
<rect x="302" y="352" width="32" height="25" fill="#000000"/>
<rect x="303" y="353" width="30" height="23" fill="#FFFFFF"/>
<rect x="317" y="352" width="17" height="25" fill="#000000"/>
<rect x="318" y="353" width="7" height="23" fill="#FFFFCC"/>
<rect x="326" y="353" width="7" height="23" fill="#FFFFCC"/>
<rect x="302" y="360" width="16" height="1" fill="#000000"/>
<rect x="302" y="368" width="16" height="1" fill="#000000"/>
<text x="304" y="359" font-size="7" fill="#FF8000" textLength="13" lengthAdjust="spacingAndGlyphs" class="o" font-weight="bold">DBL</text>
<text x="304" y="367" font-size="7" fill="#FF8000" textLength="13" lengthAdjust="spacingAndGlyphs" class="o" font-weight="bold">DBL</text>
<path d="M309 371.5h-2.5v3h2.5M311 371.5h2.5v3h-2.5" stroke="#FF8000" fill="none"/>
<rect x="318" y="362" width="12" height="4" fill="#000000"/>
<path d="M328 360l5 4l-5 4z" fill="#000000" shape-rendering="auto"/>
<rect x="320" y="363" width="1" height="2" fill="#FFFFCC"/>
<rect x="366" y="308" width="32" height="25" fill="#000000"/>
<rect x="367" y="309" width="30" height="23" fill="#FFFFCC"/>
<rect x="369.5" y="310.5" width="4" height="4" fill="none" stroke="#000000"/>
<rect x="375" y="312" width="1" height="1" fill="#000000"/>
<rect x="377" y="312" width="1" height="1" fill="#000000"/>
<rect x="379" y="312" width="3" height="1" fill="#000000"/>
<rect x="380" y="311" width="1" height="3" fill="#000000"/>
<rect x="369.5" y="318.5" width="4" height="4" fill="none" stroke="#000000"/>
<rect x="375" y="320" width="1" height="1" fill="#000000"/>
<rect x="377" y="320" width="1" height="1" fill="#000000"/>
<rect x="379" y="320" width="3" height="1" fill="#000000"/>
<rect x="380" y="319" width="1" height="3" fill="#000000"/>
<rect x="369.5" y="326.5" width="4" height="4" fill="none" stroke="#000000"/>
<rect x="375" y="328" width="1" height="1" fill="#000000"/>
<rect x="377" y="328" width="1" height="1" fill="#000000"/>
<rect x="379" y="328" width="3" height="1" fill="#000000"/>
<rect x="380" y="327" width="1" height="3" fill="#000000"/>
<rect x="383" y="312" width="1" height="17" fill="#000000"/>
<rect x="384" y="311" width="1" height="1" fill="#000000"/>
<rect x="384" y="329" width="1" height="1" fill="#000000"/>
<rect x="386.5" y="310.5" width="8" height="20" fill="none" stroke="#000000"/>
<rect x="390" y="310" width="1" height="21" fill="#000000"/>
<rect x="386" y="314" width="9" height="1" fill="#000000"/>
<rect x="386" y="318" width="9" height="1" fill="#000000"/>
<rect x="386" y="322" width="9" height="1" fill="#000000"/>
<rect x="386" y="326" width="9" height="1" fill="#000000"/>
<rect x="389" y="316" width="3" height="1" fill="#000000"/>
<rect x="389" y="324" width="3" height="1" fill="#000000"/>
<rect x="427" y="312" width="32" height="16" fill="#FF00FF"/>
<rect x="428" y="313" width="30" height="14" fill="#FFFFFF"/>
<rect x="428" y="314" width="9" height="12" fill="#FF99FF"/>
<path d="M435 315.5h-2.5v9h2.5M451 315.5h2.5v9h-2.5" stroke="#FF00FF" fill="none"/>
<path d="M431 317l3 3l-3 3z" fill="#000000" shape-rendering="auto"/>
<rect x="437.5" y="317.5" width="4" height="1" fill="none" stroke="#FF00FF"/>
<rect x="435" y="321" width="2" height="2" fill="#FF00FF"/>
<rect x="443" y="317" width="3" height="1" fill="#FF00FF"/>
<rect x="441" y="320" width="4" height="3" fill="#FF00FF"/>
<rect x="448" y="316" width="2" height="2" fill="#FF00FF"/>
<rect x="448.5" y="320.5" width="2" height="2" fill="none" stroke="#FF00FF"/>
<rect x="400" y="297" width="106" height="15" fill="#000000"/>
<rect x="401" y="298" width="104" height="13" fill="#FFFFFF"/>
<text x="400.7" y="308.5" textLength="103" lengthAdjust="spacingAndGlyphs">Signalverlaufsgraph 2</text>
</svg>
</body></html>
